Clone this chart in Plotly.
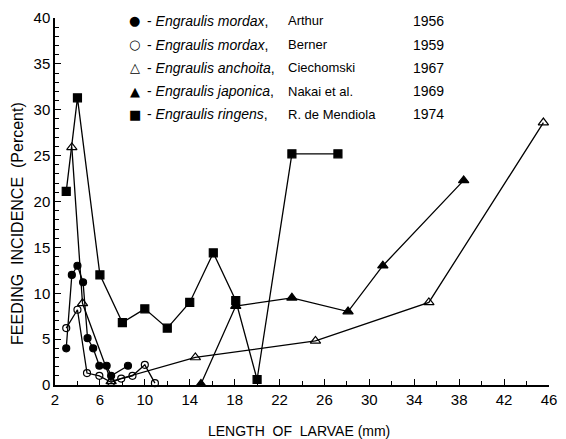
import plotly.graph_objects as go

# ---- data ----
arthur_x = [3.0, 3.5, 4.0, 4.5, 4.9, 5.4, 5.95, 6.6, 7.0, 8.5]
arthur_y = [4.0, 12.0, 13.0, 11.2, 5.1, 4.0, 2.1, 2.1, 1.0, 2.1]

berner_x = [3.0, 4.0, 4.85, 5.95, 7.0, 7.9, 8.9, 10.0, 10.9]
berner_y = [6.2, 8.2, 1.3, 1.0, 0.3, 0.7, 1.0, 2.2, 0.2]

anchoita_x = [3.5, 4.45, 7.0, 14.5, 25.2, 35.3, 45.5]
anchoita_y = [25.9, 8.9, 0.4, 3.0, 4.8, 9.0, 28.6]

japonica_x = [15.0, 18.1, 23.1, 28.1, 31.2, 38.4]
japonica_y = [0.1, 8.6, 9.5, 8.0, 13.0, 22.3]

ringens_x = [3.0, 4.0, 6.0, 8.0, 10.0, 12.0, 14.0, 16.1, 18.1, 20.0, 23.1, 27.2]
ringens_y = [21.1, 31.3, 12.0, 6.8, 8.3, 6.2, 9.0, 14.4, 9.2, 0.6, 25.2, 25.2]

legend_species = ["Engraulis mordax", "Engraulis mordax", "Engraulis anchoita",
                  "Engraulis japonica", "Engraulis ringens"]
legend_authors = ["Arthur", "Berner", "Ciechomski", "Nakai et al.", "R. de Mendiola"]
legend_years = ["1956", "1959", "1967", "1969", "1974"]
legend_symbols = ["●", "○", "△", "▲", "■"]

x_ticks = [2, 6, 10, 14, 18, 22, 26, 30, 34, 38, 42, 46]
y_ticks = [0, 5, 10, 15, 20, 25, 30, 35, 40]

# ---- figure ----
W, H = 566, 439
L, R, T, B = 55, 9, 15, 54
FONT = "Liberation Sans"

fig = go.Figure()

def add(xs, ys, symbol, size):
    fig.add_trace(go.Scatter(
        x=xs, y=ys, mode="lines+markers",
        line=dict(color="black", width=1.3),
        marker=dict(symbol=symbol, size=size, color="black",
                    line=dict(color="black", width=1.2)),
        cliponaxis=False, showlegend=False, hoverinfo="skip"))

add(anchoita_x, anchoita_y, "triangle-up-open", 9)
add(japonica_x, japonica_y, "triangle-up", 9)
add(berner_x, berner_y, "circle-open", 7)
add(arthur_x, arthur_y, "circle", 7)
add(ringens_x, ringens_y, "square", 8)

pw = W - L - R
ph = H - T - B
def px(xp):
    return (xp - L) / pw
def py(yp):
    return (H - B - yp) / ph

rows_y = [18, 42, 65, 89, 112]
ann = []
for i in range(5):
    yy = py(rows_y[i])
    ann.append(dict(x=px(136), y=yy, xref="paper", yref="paper", text=legend_symbols[i],
                    showarrow=False, xanchor="center", yanchor="middle",
                    font=dict(family="DejaVu Sans", size=13, color="black")))
    ann.append(dict(x=px(146), y=yy, xref="paper", yref="paper",
                    text="- <i>" + legend_species[i] + "</i>,",
                    showarrow=False, xanchor="left", yanchor="middle",
                    font=dict(family=FONT, size=14, color="black")))
    ann.append(dict(x=px(290), y=yy, xref="paper", yref="paper", text=legend_authors[i],
                    showarrow=False, xanchor="left", yanchor="middle",
                    font=dict(family=FONT, size=13, color="black")))
    ann.append(dict(x=px(417), y=yy, xref="paper", yref="paper", text=legend_years[i],
                    showarrow=False, xanchor="left", yanchor="middle",
                    font=dict(family=FONT, size=14, color="black")))

ann.append(dict(x=px(303), y=py(431), xref="paper", yref="paper",
                text="LENGTH  OF  LARVAE (mm)", showarrow=False,
                xanchor="center", yanchor="middle",
                font=dict(family=FONT, size=14, color="black")))
ann.append(dict(x=px(17), y=py(222), xref="paper", yref="paper",
                text="FEEDING  INCIDENCE  (Percent)", showarrow=False, textangle=-90,
                xanchor="center", yanchor="middle",
                font=dict(family=FONT, size=16, color="black")))

fig.update_layout(
    width=W, height=H,
    margin=dict(l=L, r=R, t=T, b=B),
    paper_bgcolor="white", plot_bgcolor="white",
    annotations=ann,
    xaxis=dict(range=[2, 46], tickvals=x_ticks, ticktext=[str(v) for v in x_ticks],
               showgrid=False, zeroline=False, showline=True, linecolor="black", linewidth=1.5,
               ticks="inside", ticklen=6, tickwidth=1.2, tickcolor="black",
               minor=dict(dtick=2, tick0=2, ticks="inside", ticklen=4, tickcolor="black", tickwidth=1),
               tickfont=dict(family=FONT, size=15, color="black")),
    yaxis=dict(range=[0, 40], tickvals=y_ticks, ticktext=[str(v) for v in y_ticks],
               showgrid=False, zeroline=False, showline=True, linecolor="black", linewidth=1.5,
               ticks="inside", ticklen=6, tickwidth=1.2, tickcolor="black",
               minor=dict(dtick=1, tick0=0, ticks="inside", ticklen=4, tickcolor="black", tickwidth=1),
               tickfont=dict(family=FONT, size=15, color="black")),
)

fig.write_html("out.html", config={"displayModeBar": False},
               post_script="document.body.style.margin='0';document.body.style.overflow='hidden';")
